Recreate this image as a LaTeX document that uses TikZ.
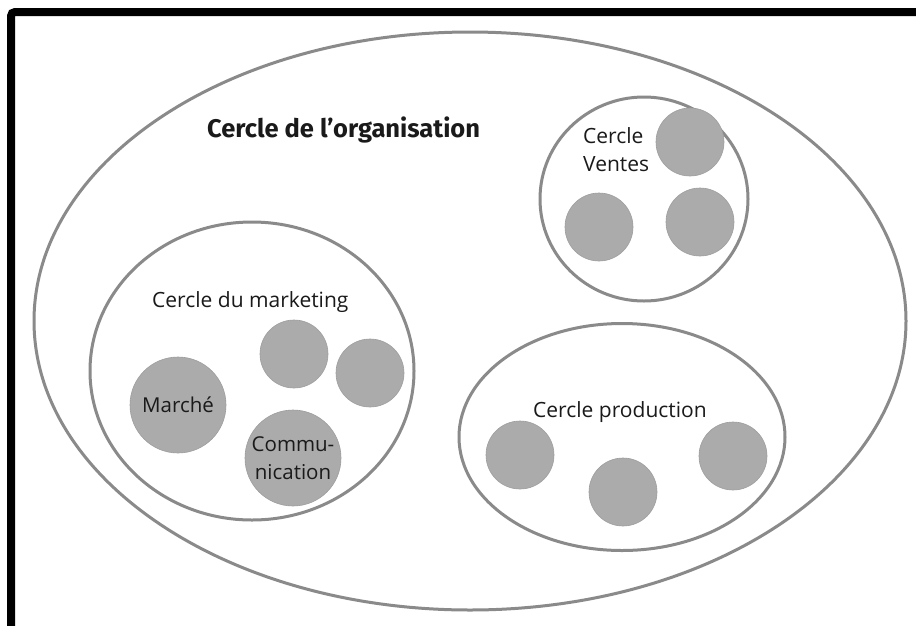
\documentclass[tikz,border=0pt]{standalone}
\usepackage{fontspec}
\setmainfont{Open Sans}
\newfontfamily\fira{Fira Sans}
\usetikzlibrary{shapes.geometric}
\definecolor{ring}{HTML}{8A8A8A}
\definecolor{dotfill}{HTML}{ABABAB}
\definecolor{ink}{HTML}{1A1A1A}
\begin{document}
\begin{tikzpicture}[x=1pt,y=-1pt,
  ringline/.style={draw=ring, line width=3pt, ellipse, inner sep=0pt},
  dot/.style={circle, fill=dotfill, draw=dotfill!92!black, line width=0.6pt, minimum size=68pt, inner sep=0pt},
  bigdot/.style={dot, minimum size=96pt, text=ink, font=\fontsize{20.5}{28}\selectfont, align=center},
  lbl/.style={text=ink, font=\fontsize{21}{28}\selectfont, inner sep=0pt}]
\useasboundingbox (0,0) rectangle (916,625);
\fill[white] (0,0) rectangle (916,625);
\draw[line width=8pt, rounded corners=4pt] (11,640) -- (11,12) -- (930,12);

% outer circle
\node[ringline, minimum width=872pt, minimum height=578pt] (org) at (470,321) {};
\node[lbl, anchor=base west, font=\fira\bfseries\fontsize{25.5}{30}\selectfont] (orgt) at (207,137) {Cercle de l’organisation};

% ventes
\node[ringline, minimum width=208pt, minimum height=204pt] (ventes) at (644,199) {};
\node[lbl, anchor=base west, align=left] (ventest) at (583,171) {Cercle\\Ventes};
\node[dot] (v1) at (690,142) {};
\node[dot] (v2) at (599,227) {};
\node[dot] (v3) at (700,222) {};

% marketing
\node[ringline, minimum width=324pt, minimum height=298pt] (mkt) at (252,371) {};
\node[lbl, anchor=base west] (mktt) at (152,307) {Cercle du marketing};
\node[bigdot] (marche) at (178,405) {Marché};
\node[bigdot] (comm) at (293,458) {Commu-\\nication};
\node[dot] (m1) at (294,354) {};
\node[dot] (m2) at (370,373) {};

% production
\node[ringline, minimum width=326pt, minimum height=227pt] (prod) at (622,437) {};
\node[lbl, anchor=base west] (prodt) at (533,417) {Cercle production};
\node[dot] (p1) at (520,455) {};
\node[dot] (p2) at (623,492) {};
\node[dot] (p3) at (733,456) {};
\end{tikzpicture}
\end{document}
